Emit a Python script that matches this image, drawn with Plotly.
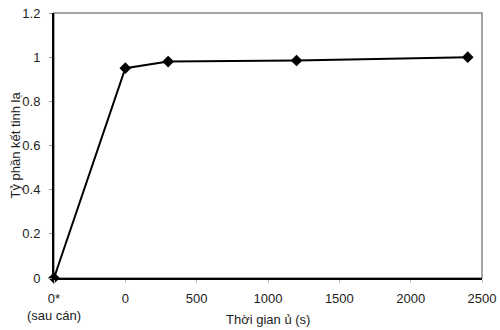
import plotly.graph_objects as go

# Data
x_time = [-500, 0, 300, 1200, 2400]   # -500 position represents "0* (sau cán)"
y_frac = [0.0, 0.95, 0.98, 0.985, 1.0]
x_tickvals = [-500, 0, 500, 1000, 1500, 2000, 2500]
x_ticktext = ["0*<br>(sau cán)", "0", "500", "1000", "1500", "2000", "2500"]
y_tickvals = [0, 0.2, 0.4, 0.6, 0.8, 1, 1.2]
y_ticktext = ["0", "0.2", "0.4", "0.6", "0.8", "1", "1.2"]
x_title = "Thời gian ủ (s)"
y_title = "Tỷ phần kết tinh lạ"

W, H = 500, 330
ML, MR, MT, MB = 54, 18, 13, 52
PW, PH = W - ML - MR, H - MT - MB

fig = go.Figure()
fig.add_trace(go.Scatter(
    x=x_time, y=y_frac, mode="lines+markers",
    line=dict(color="black", width=2),
    marker=dict(symbol="diamond", size=9, color="black"),
    cliponaxis=False, showlegend=False,
))

# grey frame (top/right)
fig.add_shape(type="rect", xref="paper", yref="paper", x0=0, y0=0, x1=1, y1=1,
              line=dict(color="#888888", width=1.5), layer="below")

font = dict(family="Liberation Sans, Arial, sans-serif", size=13, color="#222222")
fig.update_layout(
    width=W, height=H,
    margin=dict(l=ML, r=MR, t=MT, b=MB),
    paper_bgcolor="white", plot_bgcolor="white",
    font=font,
    xaxis=dict(range=[-500, 2500], tickvals=x_tickvals, ticktext=x_ticktext,
               showgrid=False, zeroline=False, showline=True, linecolor="black", linewidth=2,
               ticks="outside", ticklen=3, tickcolor="#bbbbbb", ticklabelstandoff=4,
               automargin=False),
    yaxis=dict(range=[0, 1.2], tickvals=y_tickvals, ticktext=y_ticktext,
               showgrid=False, zeroline=False, showline=True, linecolor="black", linewidth=2,
               ticks="outside", ticklen=3, tickcolor="#999999", ticklabelstandoff=6,
               automargin=False),
    annotations=[
        dict(text=x_title, xref="paper", yref="paper", x=0.5, y=-(319 - (H - MB)) / PH,
             xanchor="center", yanchor="middle", showarrow=False, font=dict(size=13)),
        dict(text=y_title, xref="paper", yref="paper", x=(15 - ML) / PW,
             y=0.5 - (145.5 - (MT + PH / 2)) / PH,
             xanchor="center", yanchor="middle", textangle=-90, showarrow=False, font=dict(size=13)),
    ],
)

fig.write_html("out.html", config={"displayModeBar": False},
               post_script="document.body.style.margin='0';")
